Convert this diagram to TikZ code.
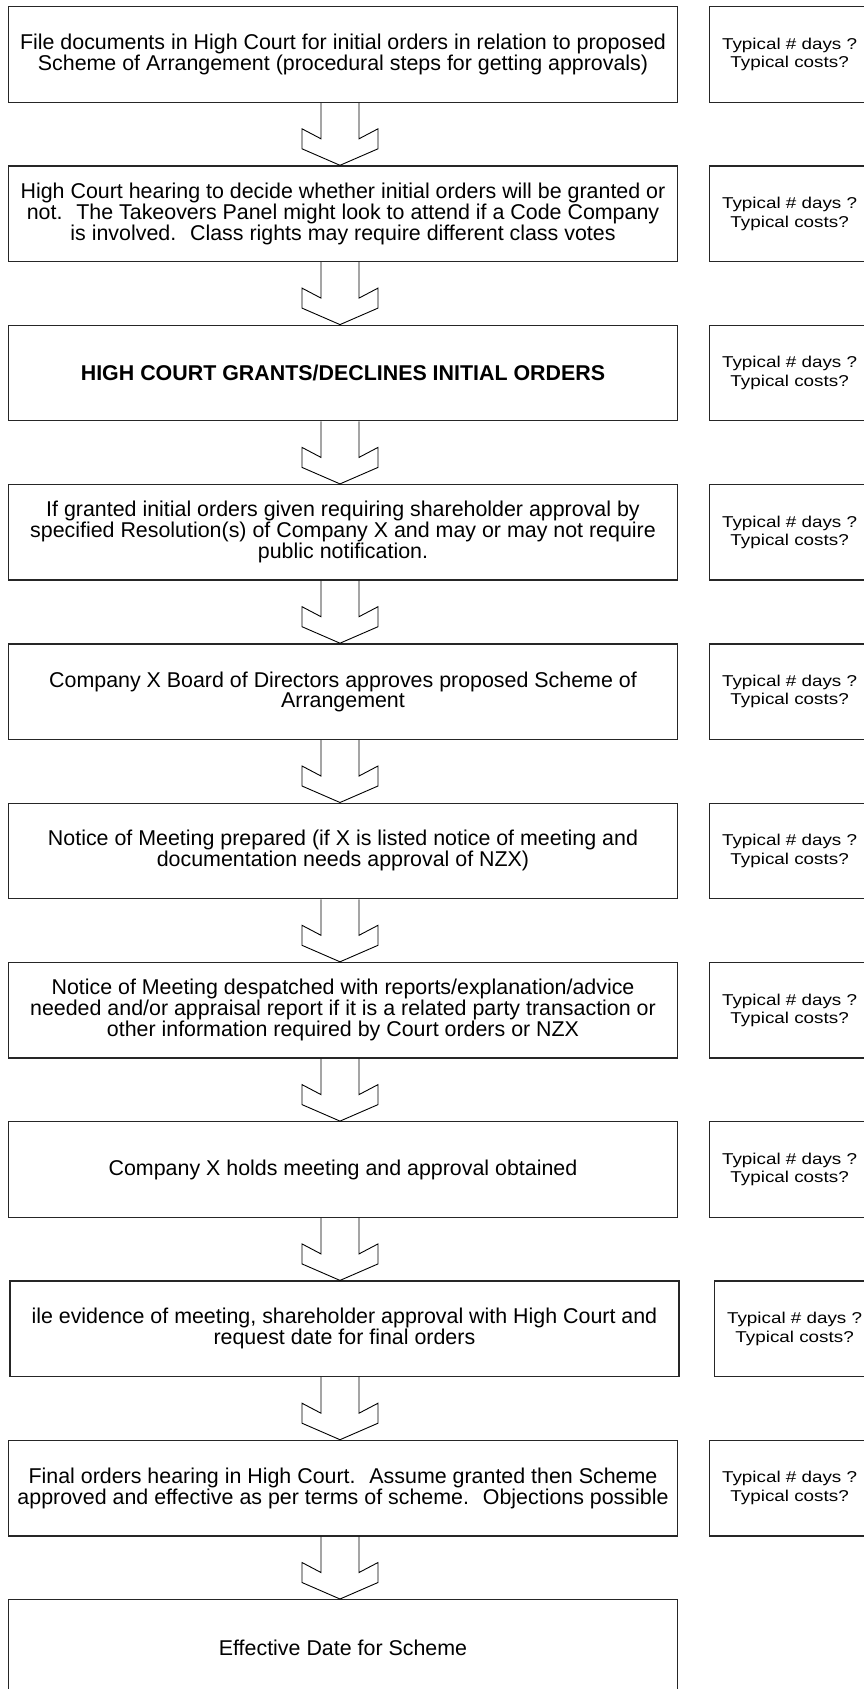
\documentclass[tikz,border=0pt]{standalone}
\usepackage{fontspec}
\newfontfamily\stepfont{Liberation Sans}
\newfontfamily\costfont{Liberation Sans}[FakeStretch=1.2]
\usepackage{tikz}
\usetikzlibrary{calc}
\tikzset{
	stepbox/.style={
			draw=black!85,line width=1.3pt,inner sep=0pt,align=center,
			minimum width=669pt,minimum height=95.5pt,
			font=\stepfont\fontsize{21.4}{18.5}\selectfont
		},
	costbox/.style={
			draw=black!85,line width=1.3pt,inner sep=0pt,align=center,
			minimum width=160pt,minimum height=95.5pt,
			font=\costfont\fontsize{15.7}{18.5}\selectfont
		},
	blockarr/.style={draw=black,line width=0.9pt,line join=miter}
}

\begin{document}
\begin{tikzpicture}[x=1pt,y=-1pt]
  \clip (0,0) rectangle (864,1689);
  \coordinate (axis) at (340,0);

  % steps
  \node[stepbox] (s1) at (343,54.4) {File documents in High Court for initial orders in relation to proposed\\Scheme of Arrangement (procedural steps for getting approvals)};
  \node[stepbox] (s2) at (343,213.7) {High Court hearing to decide whether initial orders will be granted or\\not.~ The Takeovers Panel might look to attend if a Code Company\\is involved.~ Class rights may require different class votes};
  \node[stepbox] (s3) at (343,373) {\bfseries HIGH COURT GRANTS/DECLINES INITIAL ORDERS};
  \node[stepbox] (s4) at (343,532.3) {If granted initial orders given requiring shareholder approval by\\specified Resolution(s) of Company X and may or may not require\\public notification.};
  \node[stepbox] (s5) at (343,691.6) {Company X Board of Directors approves proposed Scheme of\\Arrangement};
  \node[stepbox] (s6) at (343,850.9) {Notice of Meeting prepared (if X is listed notice of meeting and\\documentation needs approval of NZX)};
  \node[stepbox] (s7) at (343,1010.2) {Notice of Meeting despatched with reports/explanation/advice\\needed and/or appraisal report if it is a related party transaction or\\other information required by Court orders or NZX};
  \node[stepbox] (s8) at (343,1169.5) {Company X holds meeting and approval obtained};
  \node[stepbox] (s9) at (344.4,1328.8) {ile evidence of meeting, shareholder approval with High Court and\\request date for final orders};
  \node[stepbox] (s10) at (343,1488.1) {Final orders hearing in High Court.~ Assume granted then Scheme\\approved and effective as per terms of scheme.~ Objections possible};
  \node[stepbox] (s11) at (343,1647.4) {Effective Date for Scheme};

  % days and costs
  \node[costbox] (c1) at (789.6,54.4) {Typical \# days ?\\Typical costs?};
  \node[costbox] (c2) at (789.6,213.7) {Typical \# days ?\\Typical costs?};
  \node[costbox] (c3) at (789.6,373) {Typical \# days ?\\Typical costs?};
  \node[costbox] (c4) at (789.6,532.3) {Typical \# days ?\\Typical costs?};
  \node[costbox] (c5) at (789.6,691.6) {Typical \# days ?\\Typical costs?};
  \node[costbox] (c6) at (789.6,850.9) {Typical \# days ?\\Typical costs?};
  \node[costbox] (c7) at (789.6,1010.2) {Typical \# days ?\\Typical costs?};
  \node[costbox] (c8) at (789.6,1169.5) {Typical \# days ?\\Typical costs?};
  \node[costbox] (c9) at (794.6,1328.8) {Typical \# days ?\\Typical costs?};
  \node[costbox] (c10) at (789.6,1488.1) {Typical \# days ?\\Typical costs?};

  % block arrows
  \foreach \i [evaluate=\i as \j using int(\i+1)] in {1,...,10}
    \draw[blockarr] let \p1=(s\i.south -| axis), \p2=(s\j.north -| axis) in
      (\x1-19pt,\y1) -- (\x1-19pt,\y1-36pt) -- (\x1-38pt,\y1-26pt) -- (\x1-38pt,\y1-46pt)
      -- (\x2,\y2) -- (\x1+38pt,\y1-46pt) -- (\x1+38pt,\y1-26pt) -- (\x1+19pt,\y1-36pt) -- (\x1+19pt,\y1);
\end{tikzpicture}
\end{document}
